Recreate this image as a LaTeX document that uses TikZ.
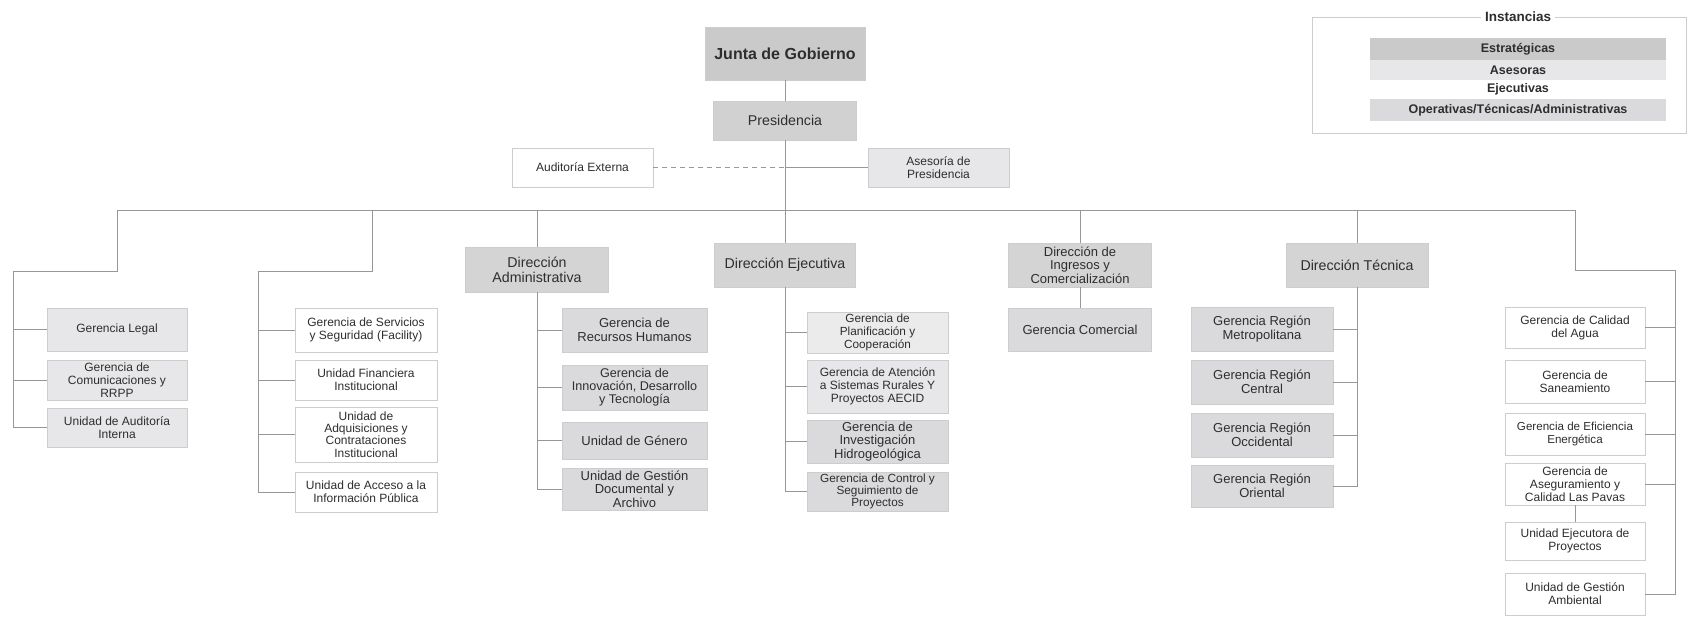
\documentclass[tikz,border=0pt]{standalone}
\usepackage{fontspec}
\setmainfont{Liberation Sans}
\definecolor{cstrat}{HTML}{CACACA}
\definecolor{cpres}{HTML}{D1D1D1}
\definecolor{cdir}{HTML}{D4D4D4}
\definecolor{cases}{HTML}{E7E7EA}
\definecolor{coper}{HTML}{DADADD}
\definecolor{clight}{HTML}{EBEBEB}
\definecolor{cline}{HTML}{979797}
\definecolor{cbord}{HTML}{CDCDCD}
\definecolor{ctext}{HTML}{2E2E2E}
\begin{document}
\begin{tikzpicture}[x=1pt,y=-1pt,
  box/.style={draw=cbord,line width=0.8pt,align=center,inner sep=0pt,text=ctext},
  conn/.style={draw=cline,line width=1pt},
  fa/.style={font=\fontsize{12}{12.8}\selectfont},
  fb/.style={font=\fontsize{13}{14}\selectfont},
  fc/.style={font=\fontsize{14.2}{15}\selectfont},
  fleg/.style={font=\bfseries\fontsize{12.5}{13}\selectfont}]
\useasboundingbox (0,0) rectangle (1697,616);

% top
\node[box,fill=cstrat,minimum width=160,minimum height=53,font=\bfseries\fontsize{16}{18}\selectfont] (junta) at (785,53.5) {Junta de Gobierno};
\node[box,fill=cpres,minimum width=143,minimum height=39,fc] (pres) at (785,120.5) {Presidencia};
\node[box,fill=white,minimum width=141,minimum height=39,fa] (audext) at (582.5,167.5) {Auditoría Externa};
\node[box,fill=cases,minimum width=141,minimum height=39,fa] (ases) at (938.5,167.5) {Asesoría de\\Presidencia};

% bus coordinates
\coordinate (b1) at (117,210);
\coordinate (b2) at (372,210);
\coordinate (b3) at (537,210);
\coordinate (b5) at (1080,210);
\coordinate (b6) at (1357,210);
\coordinate (b7) at (1575,210);
\coordinate (g1top) at (13,271);
\coordinate (g2top) at (258,271);
\coordinate (g7top) at (1675,270);

% group 1
\node[box,fill=cases,minimum width=140,minimum height=43,fa] (legal) at (117,329.5) {Gerencia Legal};
\node[box,fill=cases,minimum width=140,minimum height=40,fa] (comu) at (117,380) {Gerencia de\\Comunicaciones y\\RRPP};
\node[box,fill=cases,minimum width=140,minimum height=39,fa] (audint) at (117,427.5) {Unidad de Auditoría\\Interna};

% group 2
\node[box,fill=white,minimum width=142,minimum height=44,fa] (serv) at (366,330) {Gerencia de Servicios\\y Seguridad (Facility)};
\node[box,fill=white,minimum width=142,minimum height=40,fa] (fin) at (366,380) {Unidad Financiera\\Institucional};
\node[box,fill=white,minimum width=142,minimum height=55,font=\fontsize{12}{12.4}\selectfont] (adq) at (366,434.5) {Unidad de\\Adquisiciones y\\Contrataciones\\Institucional};
\node[box,fill=white,minimum width=142,minimum height=40,fa] (acc) at (366,492) {Unidad de Acceso a la\\Información Pública};

% administrativa
\node[box,fill=cdir,minimum width=143,minimum height=45,fc] (dira) at (537,269.5) {Dirección\\Administrativa};
\node[box,fill=coper,minimum width=145,minimum height=44,fb] (rrhh) at (634.5,330) {Gerencia de\\Recursos Humanos};
\node[box,fill=coper,minimum width=145,minimum height=45,font=\fontsize{12.6}{13}\selectfont] (innov) at (634.5,387.5) {Gerencia de\\Innovación, Desarrollo\\y Tecnología};
\node[box,fill=coper,minimum width=145,minimum height=37,fb] (gen) at (634.5,440.5) {Unidad de Género};
\node[box,fill=coper,minimum width=145,minimum height=42,font=\fontsize{13}{13.3}\selectfont] (gdoc) at (634.5,489) {Unidad de Gestión\\Documental y\\Archivo};

% ejecutiva
\node[box,fill=cdir,minimum width=141,minimum height=44,fc] (dire) at (785,265) {Dirección Ejecutiva};
\node[box,fill=clight,minimum width=141,minimum height=41,font=\fontsize{11.8}{12.6}\selectfont] (plan) at (877.5,332.5) {Gerencia de\\Planificación y\\Cooperación};
\node[box,fill=cases,minimum width=141,minimum height=53,font=\fontsize{12}{12.8}\selectfont] (aten) at (877.5,386.5) {Gerencia de Atención\\a Sistemas Rurales Y\\Proyectos AECID};
\node[box,fill=coper,minimum width=141,minimum height=43,font=\fontsize{13}{13.3}\selectfont] (inv) at (877.5,441.5) {Gerencia de\\Investigación\\Hidrogeológica};
\node[box,fill=coper,minimum width=141,minimum height=39,font=\fontsize{11.8}{12.3}\selectfont] (ctrl) at (877.5,491.5) {Gerencia de Control y\\Seguimiento de\\Proyectos};

% ingresos
\node[box,fill=cdir,minimum width=143,minimum height=44,font=\fontsize{13}{13.4}\selectfont] (diri) at (1080,265) {Dirección de\\Ingresos y\\Comercialización};
\node[box,fill=coper,minimum width=143,minimum height=43,fb] (comer) at (1080,330) {Gerencia Comercial};

% tecnica
\node[box,fill=cdir,minimum width=142,minimum height=44,fc] (dirt) at (1357,265) {Dirección Técnica};
\node[box,fill=coper,minimum width=142,minimum height=44,fb] (met) at (1262,329) {Gerencia Región\\Metropolitana};
\node[box,fill=coper,minimum width=142,minimum height=44,fb] (cen) at (1262,382) {Gerencia Región\\Central};
\node[box,fill=coper,minimum width=142,minimum height=44,fb] (occ) at (1262,435) {Gerencia Región\\Occidental};
\node[box,fill=coper,minimum width=142,minimum height=42,fb] (ori) at (1262,486) {Gerencia Región\\Oriental};

% right group
\node[box,fill=white,minimum width=140,minimum height=41,fa] (cal) at (1575,327.5) {Gerencia de Calidad\\del Agua};
\node[box,fill=white,minimum width=140,minimum height=43,fa] (san) at (1575,381.5) {Gerencia de\\Saneamiento};
\node[box,fill=white,minimum width=140,minimum height=42,font=\fontsize{11.6}{12.6}\selectfont] (efi) at (1575,434) {Gerencia de Eficiencia\\Energética};
\node[box,fill=white,minimum width=140,minimum height=42,fa] (aseg) at (1575,484) {Gerencia de\\Aseguramiento y\\Calidad Las Pavas};
\node[box,fill=white,minimum width=140,minimum height=38,fa] (ejec) at (1575,541) {Unidad Ejecutora de\\Proyectos};
\node[box,fill=white,minimum width=140,minimum height=42,fa] (amb) at (1575,594) {Unidad de Gestión\\Ambiental};

% connectors
\draw[conn] (junta.south) -- (pres.north);
\draw[conn] (pres.south) -- (dire.north);
\draw[conn,dashed,dash pattern=on 5pt off 4pt] (audext.east) -- (audext.east -| pres.south);
\draw[conn] (ases.west) -- (ases.west -| pres.south);
\draw[conn] (b1) -- (b7);

\draw[conn] (b1) |- (g1top) |- (audint.west);
\draw[conn] (legal.west -| g1top) -- (legal.west);
\draw[conn] (comu.west -| g1top) -- (comu.west);

\draw[conn] (b2) |- (g2top) |- (acc.west);
\draw[conn] (serv.west -| g2top) -- (serv.west);
\draw[conn] (fin.west -| g2top) -- (fin.west);
\draw[conn] (adq.west -| g2top) -- (adq.west);

\draw[conn] (b3) -- (dira.north);
\draw[conn] (dira.south) |- (gdoc.west);
\draw[conn] (rrhh.west -| dira.south) -- (rrhh.west);
\draw[conn] (innov.west -| dira.south) -- (innov.west);
\draw[conn] (gen.west -| dira.south) -- (gen.west);

\draw[conn] (dire.south) |- (ctrl.west);
\draw[conn] (plan.west -| dire.south) -- (plan.west);
\draw[conn] (aten.west -| dire.south) -- (aten.west);
\draw[conn] (inv.west -| dire.south) -- (inv.west);

\draw[conn] (b5) -- (diri.north);
\draw[conn] (diri.south) -- (comer.north);

\draw[conn] (b6) -- (dirt.north);
\draw[conn] (dirt.south) |- (ori.east);
\draw[conn] (met.east) -- (met.east -| dirt.south);
\draw[conn] (cen.east) -- (cen.east -| dirt.south);
\draw[conn] (occ.east) -- (occ.east -| dirt.south);

\draw[conn] (b7) |- (g7top) |- (amb.east);
\draw[conn] (cal.east) -- (cal.east -| g7top);
\draw[conn] (san.east) -- (san.east -| g7top);
\draw[conn] (efi.east) -- (efi.east -| g7top);
\draw[conn] (aseg.east) -- (aseg.east -| g7top);
\draw[conn] (aseg.south) -- (ejec.north);

% legend
\coordinate (lgA) at (1312,17);
\coordinate (lgB) at (1686,133);
\draw[draw=cbord,line width=1pt] (lgA) rectangle (lgB);
\node[fill=white,inner xsep=4pt,inner ysep=1pt,text=ctext,font=\bfseries\fontsize{13.5}{14}\selectfont] (lgtitle) at (1518,17) {Instancias};
\node[fill=cstrat,minimum width=296,minimum height=22,inner sep=0pt,text=ctext,fleg] (lg1) at (1518,49) {Estratégicas};
\node[fill=cases,minimum width=296,minimum height=20,inner sep=0pt,text=ctext,fleg] (lg2) at (1518,70) {Asesoras};
\node[fill=white,minimum width=296,minimum height=19,inner sep=0pt,text=ctext,fleg] (lg3) at (1518,89.5) {Ejecutivas};
\node[fill=coper,minimum width=296,minimum height=22,inner sep=0pt,text=ctext,fleg] (lg4) at (1518,110) {Operativas/Técnicas/Administrativas};
\end{tikzpicture}
\end{document}
